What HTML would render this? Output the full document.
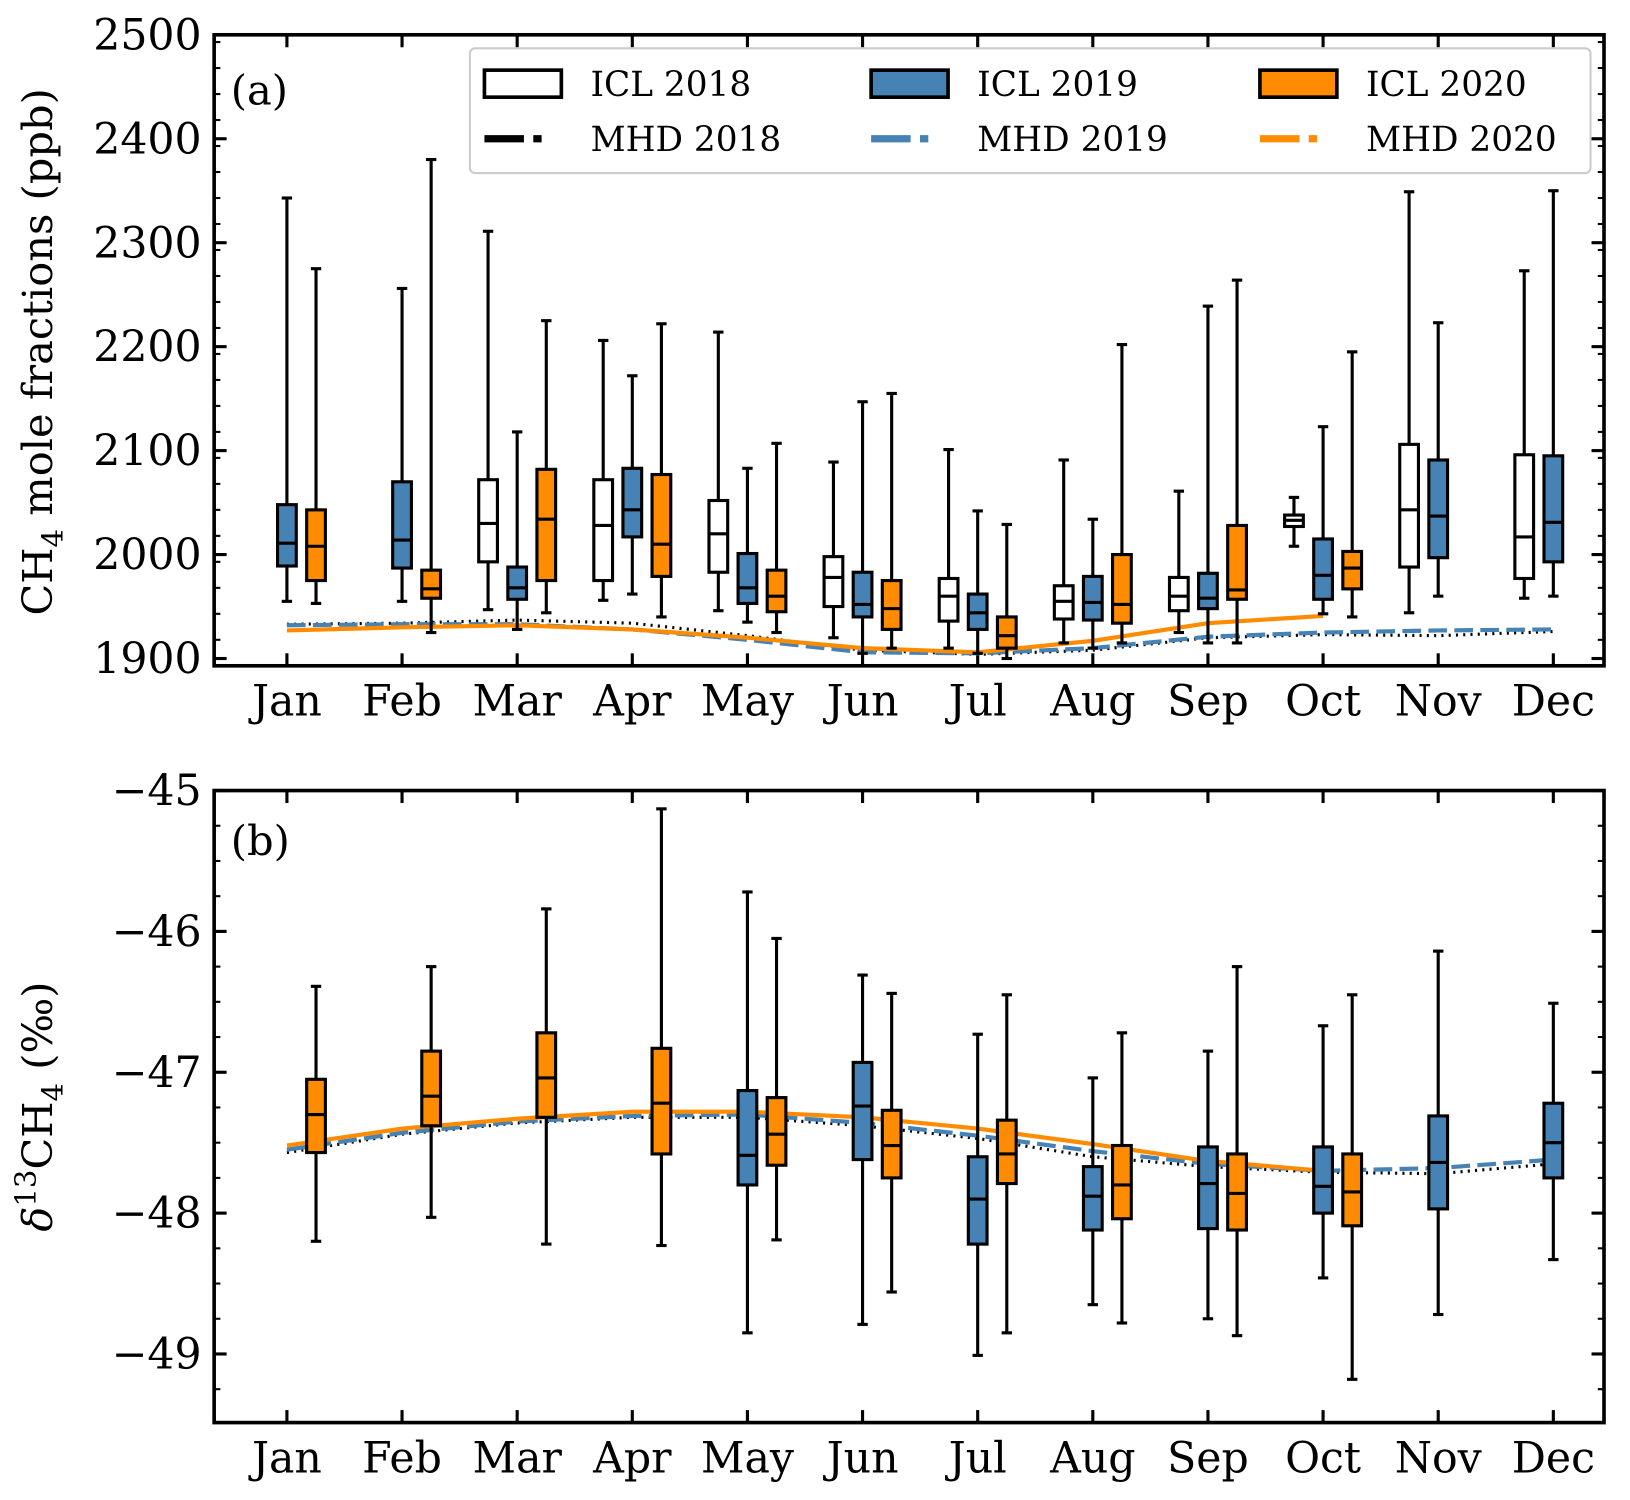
<!DOCTYPE html>
<html><head><meta charset="utf-8"><style>
html,body{margin:0;padding:0;background:#fff}
svg{display:block}
text{font-family:"DejaVu Serif","Liberation Serif",serif;fill:#000}
</style></head><body>
<svg id="chart" width="1630" height="1500" viewBox="0 0 1568 1442" xmlns="http://www.w3.org/2000/svg"></svg>
<script>
const months=["Jan","Feb","Mar","Apr","May","Jun","Jul","Aug","Sep","Oct","Nov","Dec"];
// panel a boxes: [low, q1, median, q3, high] per month, null = missing
const a2018=[null,null,[1947,1993,2030,2072,2311],[1956,1975,2028,2072,2206],[1946,1983,2020,2052,2214],[1920,1950,1978,1998,2089],[1910,1936,1960,1977,2101],[1915,1938,1955,1970,2091],[1925,1946,1960,1978,2061],[2008,2027,2033,2038,2055],[1944,1988,2043,2106,2349],[1958,1977,2017,2096,2273]];
const a2019=[[1955,1989,2011,2048,2343],[1955,1987,2014,2070,2256],[1928,1957,1968,1988,2118],[1962,2017,2043,2083,2172],[1935,1953,1968,2001,2083],[1905,1940,1952,1983,2147],[1905,1928,1944,1962,2042],[1910,1937,1954,1979,2034],[1915,1948,1958,1982,2239],[1943,1957,1980,2015,2123],[1960,1997,2037,2091,2223],[1960,1993,2031,2095,2350]];
const a2020=[[1953,1975,2008,2043,2275],[1925,1958,1967,1985,2380],[1944,1975,2034,2082,2225],[1940,1979,2010,2077,2222],[1925,1945,1960,1985,2107],[1910,1928,1948,1975,2155],[1900,1910,1922,1940,2029],[1915,1934,1952,2000,2202],[1915,1957,1966,2028,2264],[1940,1967,1987,2003,2195],null,null];
const aMhd2018=[1933,1934,1937,1934,1922,1908,1904,1908,1920,1923,1922,1926];
const aMhd2019=[1932,1933,1933,1928,1918,1906,1905,1910,1921,1925,1927,1928];
const aMhd2020=[1927,1930,1932,1928,1920,1910,1906,1917,1934,1941];
// panel b
const b2019=[null,null,null,null,[-48.85,-47.8,-47.59,-47.13,-45.72],[-48.79,-47.62,-47.24,-46.93,-46.31],[-49.01,-48.22,-47.9,-47.6,-46.73],[-48.65,-48.12,-47.88,-47.67,-47.04],[-48.75,-48.11,-47.79,-47.53,-46.85],[-48.46,-48.0,-47.81,-47.53,-46.67],[-48.72,-47.97,-47.64,-47.31,-46.14],[-48.33,-47.75,-47.5,-47.22,-46.51]];
const b2020=[[-48.2,-47.57,-47.3,-47.05,-46.39],[-48.03,-47.38,-47.17,-46.85,-46.25],[-48.22,-47.32,-47.04,-46.72,-45.84],[-48.23,-47.58,-47.22,-46.83,-45.13],[-48.19,-47.66,-47.44,-47.18,-46.05],[-48.56,-47.75,-47.52,-47.27,-46.44],[-48.85,-47.79,-47.58,-47.34,-46.45],[-48.78,-48.04,-47.8,-47.52,-46.72],[-48.87,-48.12,-47.86,-47.58,-46.25],[-49.18,-48.09,-47.85,-47.58,-46.45],null,null];
const bMhd2018=[-47.57,-47.44,-47.36,-47.32,-47.32,-47.38,-47.47,-47.6,-47.67,-47.71,-47.72,-47.65];
const bMhd2019=[-47.55,-47.43,-47.35,-47.31,-47.3,-47.36,-47.45,-47.56,-47.65,-47.7,-47.68,-47.62];
const bMhd2020=[-47.52,-47.4,-47.33,-47.28,-47.28,-47.32,-47.4,-47.51,-47.63,-47.7];
const aTicks=[1900,2000,2100,2200,2300,2400,2500];
const bTicks=[-49,-48,-47,-46,-45];

const NS="http://www.w3.org/2000/svg";
const svg=document.getElementById('chart');
function el(tag,attrs,parent){const e=document.createElementNS(NS,tag);for(const k in attrs)e.setAttribute(k,attrs[k]);(parent||svg).appendChild(e);return e;}
const X0=206,X1=1543;
const xM=i=>276+i*110.75;
const BLUE="#4682b4",ORANGE="#ff8c00";

function panel(name,top,bottom,ymin,ymax,yOf,ticks,minorStep,fmt){
  const g=el('g',{});
  
  
  ticks.forEach(t=>{const y=yOf(t);
    el('line',{x1:X0,x2:X0+12,y1:y,y2:y,stroke:'#000','stroke-width':3},g);
    el('line',{x1:X1,x2:X1-12,y1:y,y2:y,stroke:'#000','stroke-width':3},g);
    const tx=el('text',{x:X0-12,y:y+14,'text-anchor':'end','font-size':41},g);tx.textContent=fmt(t);
    
    
  });
  for(let v=ymin;v<=ymax+1e-9;v+=minorStep){const y=yOf(v);if(y<top||y>bottom)continue;
    el('line',{x1:X0,x2:X0+6,y1:y,y2:y,stroke:'#000','stroke-width':2},g);
    el('line',{x1:X1,x2:X1-6,y1:y,y2:y,stroke:'#000','stroke-width':2},g);}
  months.forEach((m,i)=>{const x=xM(i);
    el('line',{x1:x,x2:x,y1:bottom,y2:bottom-12,stroke:'#000','stroke-width':3},g);
    el('line',{x1:x,x2:x,y1:top,y2:top+12,stroke:'#000','stroke-width':3},g);
    const tx=el('text',{x:x,y:bottom+48,'text-anchor':'middle','font-size':41},g);tx.textContent=m;
    
    
  });
  return g;
}
function boxes(g,data,off,fill,yOf,name){
  data.forEach((d,i)=>{if(!d)return;const x=xM(i)+off,w=18;
    const b=el('g',{},g);
    
    
    el('line',{x1:x,x2:x,y1:yOf(d[0]),y2:yOf(d[1]),stroke:'#000','stroke-width':3},b);
    el('line',{x1:x,x2:x,y1:yOf(d[3]),y2:yOf(d[4]),stroke:'#000','stroke-width':3},b);
    el('line',{x1:x-5,x2:x+5,y1:yOf(d[0]),y2:yOf(d[0]),stroke:'#000','stroke-width':3},b);
    el('line',{x1:x-5,x2:x+5,y1:yOf(d[4]),y2:yOf(d[4]),stroke:'#000','stroke-width':3},b);
    el('rect',{x:x-w/2,y:yOf(d[3]),width:w,height:yOf(d[1])-yOf(d[3]),fill:fill,stroke:'#000','stroke-width':3},b);
    el('line',{x1:x-w/2,x2:x+w/2,y1:yOf(d[2]),y2:yOf(d[2]),stroke:'#000','stroke-width':3},b);
  });
}
function line(g,data,yOf,attrs,name){
  const pts=data.map((v,i)=>xM(i)+','+yOf(v)).join(' ');
  const p=el('polyline',Object.assign({points:pts,fill:'none'},attrs),g);
  
  
}
// Panel a
const yA=v=>633-(v-1900);
const ga=panel('panel-a-ch4',33,640,1893,2500,yA,aTicks,25,v=>String(v));
line(ga,aMhd2018,yA,{stroke:'#000','stroke-width':3,'stroke-dasharray':'2,5'},'mhd-2018-line');
line(ga,aMhd2019,yA,{stroke:BLUE,'stroke-width':4,'stroke-dasharray':'18,7'},'mhd-2019-line');
line(ga,aMhd2020,yA,{stroke:ORANGE,'stroke-width':4},'mhd-2020-line');
boxes(ga,a2018,-28,'#fff',yA,'icl-2018-box');
boxes(ga,a2019,0,BLUE,yA,'icl-2019-box');
boxes(ga,a2020,28,ORANGE,yA,'icl-2020-box');
el('rect',{x:X0,y:33,width:X1-X0,height:607,fill:'none',stroke:'#000','stroke-width':3.5},ga);
let t=el('text',{x:222,y:100,'font-size':40},ga);t.textContent='(a)';

t=el('text',{x:0,y:0,'font-size':40,transform:'translate(50,338) rotate(-90)','text-anchor':'middle'},ga);
t.innerHTML='CH<tspan font-size="28" dy="10">4</tspan><tspan dy="-10"> mole fractions (ppb)</tspan>';

// legend
const lg=el('g',{},ga);


el('rect',{x:452,y:46,width:1078,height:120,fill:'#fff',stroke:'#ccc','stroke-width':2,rx:5},lg);
const legItems=[['ICL 2018','box','#fff',466,80],['ICL 2019','box',BLUE,838,80],['ICL 2020','box',ORANGE,1212,80],
['MHD 2018','dot','#000',466,133],['MHD 2019','dash',BLUE,838,133],['MHD 2020','dash',ORANGE,1212,133]];
legItems.forEach(it=>{const e=el('g',{},lg);
  
  
  const [lab,type,c,x,y]=it;
  if(type==='box')el('rect',{x:x,y:y-13,width:74,height:26,fill:c,stroke:'#000','stroke-width':3.5},e);
  else el('line',{x1:x,x2:x+74,y1:y,y2:y,stroke:c,'stroke-width':7,'stroke-dasharray':'38,9,8,30'},e);
  const tt=el('text',{x:x+102,y:y+12,'font-size':33},e);tt.textContent=lab;
});
// Panel b
const yB=v=>760+(-45-v)*135.5;
const gb=panel('panel-b-d13c',760,1368,-49.5,-45,yB,bTicks,0.25,v=>'\u2212'+Math.abs(v));
line(gb,bMhd2018,yB,{stroke:'#000','stroke-width':3,'stroke-dasharray':'2,5'},'mhd-2018-line-b');
line(gb,bMhd2019,yB,{stroke:BLUE,'stroke-width':4,'stroke-dasharray':'18,7'},'mhd-2019-line-b');
line(gb,bMhd2020,yB,{stroke:ORANGE,'stroke-width':4},'mhd-2020-line-b');
boxes(gb,b2019,0,BLUE,yB,'icl-2019-box-b');
boxes(gb,b2020,28,ORANGE,yB,'icl-2020-box-b');
el('rect',{x:X0,y:760,width:X1-X0,height:608,fill:'none',stroke:'#000','stroke-width':3.5},gb);
t=el('text',{x:222,y:822,'font-size':40},gb);t.textContent='(b)';

t=el('text',{x:0,y:0,'font-size':40,transform:'translate(50,1064) rotate(-90)','text-anchor':'middle'},gb);
t.innerHTML='<tspan font-style="italic">δ</tspan><tspan font-size="28" dy="-16">13</tspan><tspan dy="16">CH</tspan><tspan font-size="28" dy="10">4</tspan><tspan dy="-10"> (‰)</tspan>';

</script>
</body></html>
